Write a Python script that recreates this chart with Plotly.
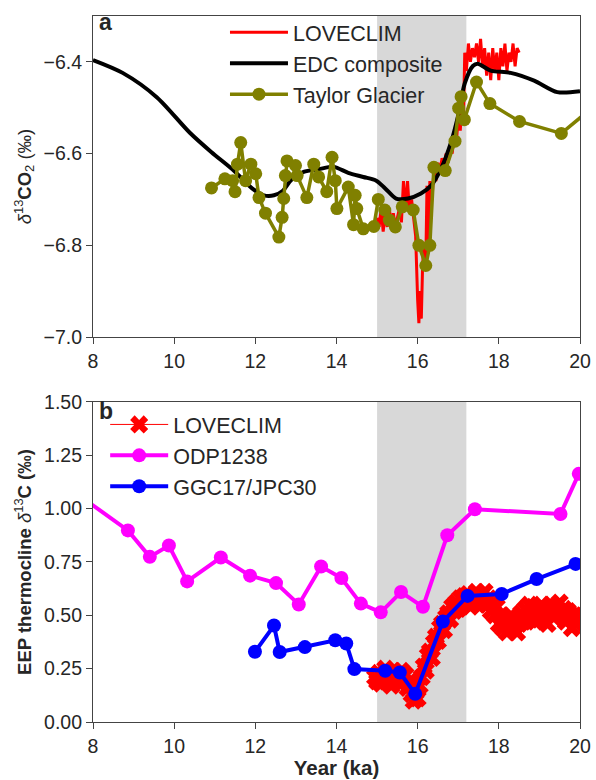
import plotly.graph_objects as go

# ---------------- Panel a data ----------------
edc_x = [8.00, 8.73, 9.57, 10.38, 10.92, 11.48, 11.92, 12.21, 12.46, 12.68, 12.87, 13.19,
         13.56, 13.93, 14.29, 14.66, 14.98, 15.20, 15.47, 15.76, 16.08, 16.33, 16.57, 16.82,
         16.99, 17.16, 17.36, 17.48, 17.80, 18.29, 18.87, 19.44, 20.00]
edc_y = [-6.396, -6.424, -6.477, -6.554, -6.597, -6.638, -6.676, -6.691, -6.691, -6.681, -6.659, -6.640,
         -6.634, -6.629, -6.642, -6.651, -6.659, -6.676, -6.698, -6.698, -6.687, -6.670, -6.634, -6.576,
         -6.520, -6.447, -6.409, -6.404, -6.419, -6.424, -6.441, -6.466, -6.464]

tg_x = [10.92, 11.25, 11.44, 11.50, 11.56, 11.64, 11.76, 11.89, 12.01, 12.09, 12.25, 12.58,
        12.66, 12.70, 12.74, 12.78, 12.99, 13.03, 13.27, 13.44, 13.56, 13.76, 13.89, 13.97,
        14.01, 14.29, 14.42, 14.46, 14.50, 14.66, 14.92, 15.03, 15.19, 15.30, 15.45, 15.62,
        15.89, 16.03, 16.20, 16.30, 16.40, 16.68, 16.92, 17.01, 17.07, 17.15, 17.45, 17.78,
        18.51, 19.54, 20.30]
tg_y = [-6.675, -6.655, -6.659, -6.683, -6.623, -6.576, -6.659, -6.623, -6.644, -6.696, -6.730, -6.782,
        -6.739, -6.698, -6.648, -6.616, -6.626, -6.648, -6.696, -6.623, -6.651, -6.683, -6.608, -6.659,
        -6.720, -6.673, -6.755, -6.691, -6.720, -6.764, -6.759, -6.700, -6.723, -6.745, -6.760, -6.716,
        -6.723, -6.800, -6.844, -6.800, -6.630, -6.637, -6.573, -6.501, -6.476, -6.526, -6.444, -6.491,
        -6.530, -6.556, -6.500]

lc_a_x = [15.00, 15.05, 15.10, 15.15, 15.20, 15.25, 15.30, 15.35, 15.40, 15.45, 15.50, 15.55,
          15.60, 15.65, 15.70, 15.75, 15.80, 15.85, 15.90, 15.95, 16.00, 16.03, 16.06, 16.09,
          16.12, 16.15, 16.20, 16.23, 16.27, 16.30, 16.35, 16.40, 16.45, 16.50, 16.55, 16.60,
          16.65, 16.70, 16.75, 16.80, 16.85, 16.90, 16.95, 17.00, 17.05, 17.10, 17.13, 17.16,
          17.20, 17.25, 17.30, 17.35, 17.40, 17.45, 17.50, 17.55, 17.60, 17.65, 17.70, 17.75,
          17.80, 17.85, 17.90, 17.95, 18.00, 18.05, 18.10, 18.15, 18.20, 18.25, 18.30, 18.35,
          18.40, 18.45, 18.50]
lc_a_y = [-6.74, -6.76, -6.72, -6.77, -6.73, -6.76, -6.72, -6.75, -6.73, -6.76, -6.74, -6.72,
          -6.75, -6.66, -6.72, -6.66, -6.73, -6.70, -6.74, -6.78, -6.92, -6.97, -6.90, -6.96,
          -6.85, -6.80, -6.84, -6.67, -6.80, -6.66, -6.70, -6.64, -6.66, -6.62, -6.64, -6.61,
          -6.63, -6.60, -6.62, -6.59, -6.60, -6.56, -6.58, -6.52, -6.55, -6.47, -6.52, -6.38,
          -6.42, -6.36, -6.40, -6.37, -6.39, -6.36, -6.40, -6.35, -6.41, -6.37, -6.43, -6.38,
          -6.44, -6.37, -6.42, -6.38, -6.44, -6.37, -6.41, -6.36, -6.42, -6.38, -6.40, -6.36,
          -6.41, -6.37, -6.38]

# ---------------- Panel b data ----------------
odp_x = [7.60, 8.86, 9.40, 9.87, 10.32, 11.15, 11.87, 12.51, 13.07, 13.62, 14.12, 14.60,
         15.09, 15.59, 16.13, 16.73, 17.41, 19.52, 19.97]
odp_y = [1.070, 0.898, 0.774, 0.827, 0.659, 0.771, 0.686, 0.651, 0.551, 0.729, 0.675, 0.555,
         0.514, 0.609, 0.540, 0.875, 0.997, 0.975, 1.163]

ggc_x = [11.99, 12.46, 12.60, 13.22, 13.97, 14.24, 14.44, 15.20, 15.56, 15.94, 16.62, 17.23,
         18.07, 18.93, 19.89, 20.30]
ggc_y = [0.329, 0.452, 0.328, 0.351, 0.383, 0.368, 0.248, 0.240, 0.232, 0.132, 0.471, 0.591,
         0.600, 0.670, 0.741, 0.770]

lc_b_x = [14.95, 15.00, 15.05, 15.10, 15.15, 15.20, 15.25, 15.30, 15.35, 15.40, 15.45, 15.50,
          15.55, 15.60, 15.65, 15.70, 15.75, 15.80, 15.85, 15.90, 15.95, 16.00, 16.05, 16.10,
          16.15, 16.20, 16.25, 16.30, 16.35, 16.40, 16.45, 16.50, 16.55, 16.60, 16.65, 16.70,
          16.75, 16.80, 16.85, 16.90, 16.95, 17.00, 17.05, 17.10, 17.15, 17.20, 17.25, 17.30,
          17.35, 17.40, 17.45, 17.50, 17.55, 17.60, 17.65, 17.70, 17.75, 17.80, 17.85, 17.90,
          17.95, 18.00, 18.05, 18.10, 18.15, 18.20, 18.25, 18.30, 18.35, 18.40, 18.45, 18.50,
          18.55, 18.60, 18.65, 18.70, 18.75, 18.80, 18.85, 18.90, 18.95, 19.00, 19.05, 19.10,
          19.15, 19.20, 19.25, 19.30, 19.35, 19.40, 19.45, 19.50, 19.55, 19.60, 19.65, 19.70,
          19.75, 19.80, 19.85, 19.90, 19.95, 20.00]
lc_b_y = [0.21, 0.19, 0.23, 0.18, 0.22, 0.25, 0.19, 0.23, 0.17, 0.24, 0.20, 0.22,
          0.18, 0.24, 0.19, 0.22, 0.16, 0.19, 0.13, 0.10, 0.14, 0.11, 0.17, 0.21,
          0.26, 0.24, 0.31, 0.33, 0.30, 0.37, 0.40, 0.38, 0.44, 0.46, 0.43, 0.49,
          0.51, 0.48, 0.54, 0.52, 0.56, 0.53, 0.58, 0.55, 0.59, 0.56, 0.60, 0.54,
          0.58, 0.56, 0.61, 0.55, 0.59, 0.57, 0.61, 0.55, 0.58, 0.52, 0.56, 0.50,
          0.54, 0.46, 0.50, 0.44, 0.48, 0.42, 0.47, 0.50, 0.44, 0.48, 0.42, 0.46,
          0.51, 0.47, 0.53, 0.49, 0.55, 0.50, 0.54, 0.47, 0.52, 0.48, 0.55, 0.50,
          0.53, 0.46, 0.51, 0.55, 0.49, 0.54, 0.51, 0.56, 0.50, 0.53, 0.47, 0.52,
          0.49, 0.44, 0.50, 0.46, 0.51, 0.48]

shade_x0, shade_x1 = 15.0, 17.2
x_ticks = [8, 10, 12, 14, 16, 18, 20]
ya_ticks = [-7.0, -6.8, -6.6, -6.4]
yb_ticks = [0.0, 0.25, 0.5, 0.75, 1.0, 1.25, 1.5]

FONT = "Liberation Sans, Arial, sans-serif"
TXT = "#262626"
AX = "#444444"

fig = go.Figure()

# Panel a
fig.add_trace(go.Scatter(x=lc_a_x, y=lc_a_y, mode="lines", name="LOVECLIM",
                         line=dict(color="#ff0000", width=3), xaxis="x", yaxis="y", legend="legend"))
fig.add_trace(go.Scatter(x=edc_x, y=edc_y, mode="lines", name="EDC composite",
                         line=dict(color="black", width=4, shape="spline", smoothing=0.8),
                         xaxis="x", yaxis="y", legend="legend"))
fig.add_trace(go.Scatter(x=tg_x, y=tg_y, mode="lines+markers", name="Taylor Glacier",
                         line=dict(color="#808000", width=3.5),
                         marker=dict(color="#808000", size=13),
                         xaxis="x", yaxis="y", legend="legend"))

# Panel b
fig.add_trace(go.Scatter(x=lc_b_x, y=lc_b_y, mode="lines+markers", name="LOVECLIM",
                         line=dict(color="#ff0000", width=1),
                         marker=dict(color="#ff0000", size=16, symbol="x", line=dict(width=0)),
                         xaxis="x2", yaxis="y2", legend="legend2"))
fig.add_trace(go.Scatter(x=odp_x, y=odp_y, mode="lines+markers", name="ODP1238",
                         line=dict(color="#ff00ff", width=4),
                         marker=dict(color="#ff00ff", size=14),
                         xaxis="x2", yaxis="y2", legend="legend2"))
fig.add_trace(go.Scatter(x=ggc_x, y=ggc_y, mode="lines+markers", name="GGC17/JPC30",
                         line=dict(color="#0000ff", width=4),
                         marker=dict(color="#0000ff", size=14),
                         xaxis="x2", yaxis="y2", legend="legend2"))

for xr, yr in (("x", "y domain"), ("x2", "y2 domain")):
    fig.add_shape(type="rect", xref=xr, yref=yr, x0=shade_x0, x1=shade_x1, y0=0, y1=1,
                  fillcolor="rgb(216,216,216)", line=dict(width=0), layer="below")

axis_common = dict(showline=True, mirror=True, linecolor=AX, linewidth=1.2,
                   ticks="outside", ticklen=6, tickcolor=AX, showgrid=False, zeroline=False,
                   tickfont=dict(size=19.5, color=TXT, family=FONT))

fig.update_layout(
    width=596, height=780,
    margin=dict(l=93, r=13, t=5, b=58),
    paper_bgcolor="white", plot_bgcolor="white",
    font=dict(family=FONT, color=TXT),
    xaxis=dict(domain=[0, 1], range=[8, 20], tickvals=x_ticks, anchor="y", **axis_common),
    yaxis=dict(domain=[0.5453, 1], range=[-7.0, -6.3], tickvals=ya_ticks, tickformat=".1f",
               anchor="x",
               title=dict(text="<i>δ</i><sup>13</sup><b>CO</b><sub>2</sub> (‰)",
                          font=dict(size=18.5, color=TXT), standoff=7),
               **axis_common),
    xaxis2=dict(domain=[0, 1], range=[8, 20], tickvals=x_ticks, anchor="y2",
                title=dict(text="<b>Year (ka)</b>", font=dict(size=20.5, color=TXT), standoff=2),
                **axis_common),
    yaxis2=dict(domain=[0, 0.4533], range=[0, 1.5], tickvals=yb_ticks, tickformat=".2f",
                anchor="x2",
                title=dict(text="<b>EEP thermocline </b><i>δ</i><sup>13</sup><b>C (‰)</b>",
                           font=dict(size=18.5, color=TXT), standoff=7),
                **axis_common),
    legend=dict(x=0.271, y=1.006, xanchor="left", yanchor="top", bgcolor="rgba(0,0,0,0)",
                font=dict(size=21.5, color=TXT), itemwidth=58),
    legend2=dict(x=0.025, y=0.4505, xanchor="left", yanchor="top", bgcolor="rgba(0,0,0,0)",
                 font=dict(size=21.5, color=TXT), itemwidth=58),
    annotations=[
        dict(text="<b>a</b>", xref="x domain", yref="y domain", x=0.008, y=1.0, yshift=9,
             xanchor="left", yanchor="top", showarrow=False, font=dict(size=23, color=TXT)),
        dict(text="<b>b</b>", xref="x2 domain", yref="y2 domain", x=0.008, y=1.0, yshift=6,
             xanchor="left", yanchor="top", showarrow=False, font=dict(size=23, color=TXT)),
    ],
)

fig.write_html("out.html")
